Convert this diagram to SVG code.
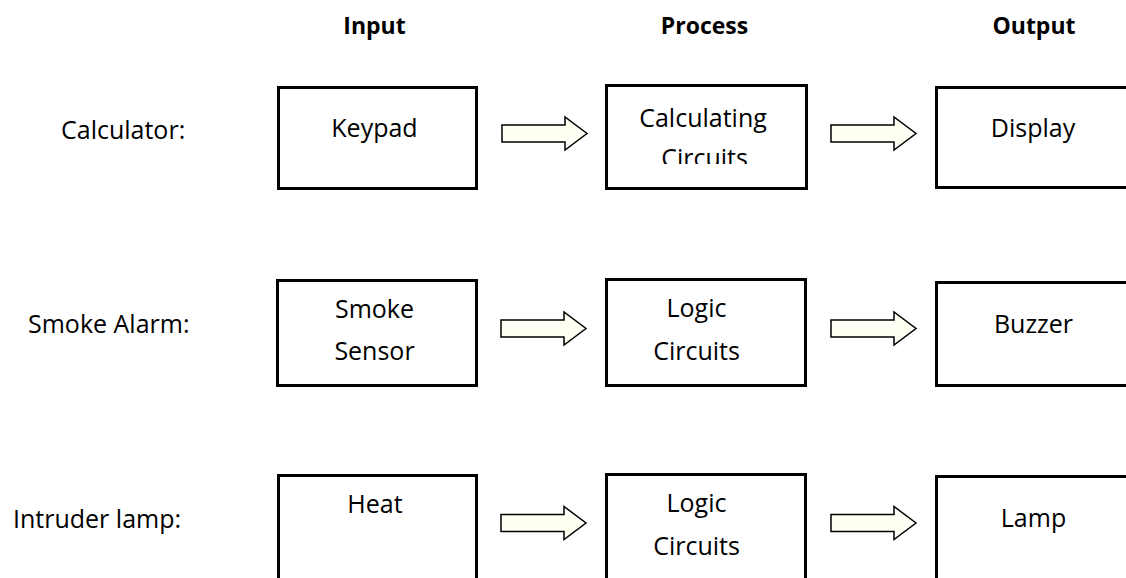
<svg xmlns="http://www.w3.org/2000/svg" width="1126" height="578" viewBox="0 0 1126 578">
<style>
.box{fill:#ffffff;stroke:#000000;stroke-width:3}
.arr{fill:#fffff4;stroke:#000000;stroke-width:1.5;stroke-linejoin:miter}
.t{font-family:"Open Sans","Liberation Sans",sans-serif;font-size:25px;fill:#000000;text-anchor:middle}
.lab{font-family:"Open Sans","Liberation Sans",sans-serif;font-size:25px;fill:#000000}
.h{font-family:"Open Sans","Liberation Sans",sans-serif;font-size:23px;font-weight:bold;fill:#000000;text-anchor:middle}
</style>
<defs>
<path id="arrow" d="M0,0 H63 V-8 L85,8.5 L63,25 V17 H0 Z"/>
<clipPath id="clipCalc"><rect x="605" y="84" width="203" height="80"/></clipPath>
</defs>
<rect width="1126" height="578" fill="#ffffff"/>

<g id="headers">
<text class="h" x="374.5" y="34">Input</text>
<text class="h" x="704.5" y="34">Process</text>
<text class="h" x="1034" y="34">Output</text>
</g>

<g id="row-labels">
<text class="lab" x="61" y="139">Calculator:</text>
<text class="lab" x="28" y="333">Smoke Alarm:</text>
<text class="lab" x="13" y="528">Intruder lamp:</text>
</g>

<g id="keypad"><rect class="box" x="278.5" y="87.5" width="198" height="101"/><text class="t" x="374.5" y="137">Keypad</text></g>
<g id="calculating-circuits"><rect class="box" x="606.5" y="85.5" width="200" height="103"/><g clip-path="url(#clipCalc)"><text class="t" x="703" y="127">Calculating</text><text class="t" x="704.5" y="167">Circuits</text></g></g>
<g id="display"><rect class="box" x="936.5" y="87.5" width="200" height="100"/><text class="t" x="1033" y="137">Display</text></g>

<g id="smoke-sensor"><rect class="box" x="277.5" y="280.5" width="199" height="105"/><text class="t" x="374.5" y="318">Smoke</text><text class="t" x="374.5" y="360">Sensor</text></g>
<g id="logic-circuits-1"><rect class="box" x="606.5" y="279.5" width="199" height="106"/><text class="t" x="696.5" y="317">Logic</text><text class="t" x="696.5" y="360">Circuits</text></g>
<g id="buzzer"><rect class="box" x="936.5" y="282.5" width="200" height="103"/><text class="t" x="1033.5" y="333">Buzzer</text></g>

<g id="heat"><rect class="box" x="278.5" y="475.5" width="198" height="120"/><text class="t" x="375" y="513">Heat</text></g>
<g id="logic-circuits-2"><rect class="box" x="606.5" y="474.5" width="199" height="120"/><text class="t" x="696.5" y="512">Logic</text><text class="t" x="696.5" y="555">Circuits</text></g>
<g id="lamp"><rect class="box" x="936.5" y="476.5" width="200" height="120"/><text class="t" x="1033.5" y="527">Lamp</text></g>

<g id="connectors">
<use href="#arrow" class="arr" transform="translate(502,125)"/>
<use href="#arrow" class="arr" transform="translate(831,125)"/>
<use href="#arrow" class="arr" transform="translate(501,320)"/>
<use href="#arrow" class="arr" transform="translate(831,320)"/>
<use href="#arrow" class="arr" transform="translate(501,514.5)"/>
<use href="#arrow" class="arr" transform="translate(831,514.5)"/>
</g>
</svg>
